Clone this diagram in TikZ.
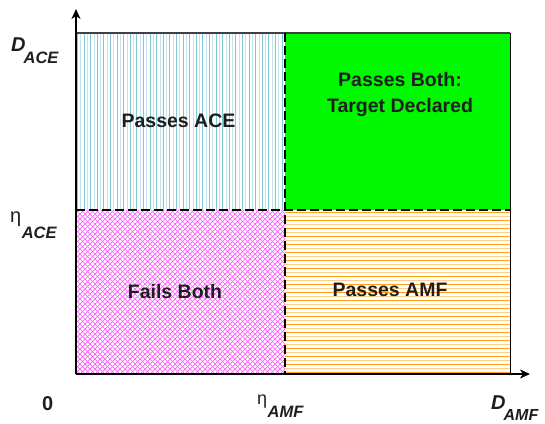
\documentclass[tikz,border=0pt]{standalone}
\usepackage{fontspec}
\setmainfont{Liberation Sans}
\usetikzlibrary{arrows.meta}
\definecolor{tealA}{RGB}{130,200,212}
\definecolor{tealB}{RGB}{195,230,236}
\definecolor{orgA}{RGB}{255,160,20}
\definecolor{orgB}{RGB}{255,205,140}
\definecolor{mag}{RGB}{255,90,255}
\definecolor{brightgreen}{RGB}{0,248,0}
\definecolor{txt}{RGB}{30,30,30}
\begin{document}
\begin{tikzpicture}[x=1pt,y=-1pt,
  region/.style={font=\fontsize{19.5}{26}\selectfont\bfseries, text=txt, anchor=base, inner sep=0pt, align=center},
  axlabel/.style={anchor=base west, inner sep=0pt, text=txt},
  divider/.style={line width=2pt, dash pattern=on 9pt off 4pt},
  axisline/.style={line width=2pt, -{Stealth[length=10pt,width=9pt,inset=3pt]}},
  ]
\useasboundingbox (0,0) rectangle (545,423);
\coordinate (O) at (76,374);
\coordinate (TL) at (76,33);
\coordinate (TR) at (510,33);
\coordinate (BR) at (510,374);
\coordinate (M) at (285,210);
\coordinate (Ytip) at (76,9);
\coordinate (Xtip) at (530,374);

% top-left: vertical teal lines
\fill[white] (TL) rectangle (M);
\begin{scope}
  \clip (TL) rectangle (M);
  \foreach \i in {0,...,64}{
    \ifodd\i
      \draw[tealB, line width=1pt] ({77.5+3.3*\i},33) -- ({77.5+3.3*\i},210);
    \else
      \draw[tealA, line width=1pt] ({77.5+3.3*\i},33) -- ({77.5+3.3*\i},210);
    \fi
  }
\end{scope}

% top-right: green
\fill[brightgreen] (M |- TL) rectangle (TR |- M);

% bottom-left: magenta crosshatch
\fill[white] (TL |- M) rectangle (M |- O);
\begin{scope}
  \clip (TL |- M) rectangle (M |- O);
  \foreach \k in {0,...,115}{
    \draw[mag, line width=0.7pt] ({-100+5*\k},374) -- ++(170,-170);
    \draw[mag, line width=0.7pt] ({-100+5*\k},374) -- ++(-170,-170);
  }
\end{scope}

% bottom-right: orange horizontal lines
\fill[white] (M) rectangle (BR);
\begin{scope}
  \clip (M) rectangle (BR);
  \foreach \i in {0,...,42}{
    \ifodd\i
      \draw[orgB, line width=1.3pt] (285,{212.5+4*\i}) -- (510,{212.5+4*\i});
    \else
      \draw[orgA, line width=1.3pt] (285,{212.5+4*\i}) -- (510,{212.5+4*\i});
    \fi
  }
\end{scope}

% outline
\draw[black!75, line width=1.5pt] (TL) -- (TR);
\draw[black, line width=1pt] (TR) -- (BR);

% dividers
\draw[divider] (M |- TL) -- (M |- O);
\draw[divider] (TL |- M) -- (TR |- M);

% axes
\draw[axisline] (O) -- (Ytip);
\draw[axisline] (O) -- (Xtip);

% region labels
\node[region] (passace) at (178.5,127) {Passes ACE};
\node[region] (passboth) at (400,112) {Passes Both:\\Target Declared};
\node[region] (fails) at (175,298) {Fails Both};
\node[region] (passamf) at (390,296) {Passes AMF};

% axis labels
\node[axlabel] (dace) at (11,51) {{\fontsize{20}{20}\selectfont\bfseries\itshape D}\kern-2pt\raisebox{-12pt}{\fontsize{16.5}{16}\selectfont\bfseries\itshape ACE}};
\node[axlabel] (eace) at (10,222) {{\fontsize{20}{20}\selectfont η}\kern0.5pt\raisebox{-16pt}{\fontsize{16.5}{16}\selectfont\bfseries\itshape ACE}};
\node[axlabel] (zero) at (42,410) {\fontsize{20}{20}\selectfont\bfseries 0};
\node[axlabel] (eamf) at (257,404) {{\fontsize{18}{18}\selectfont η}\kern0.5pt\raisebox{-13pt}{\fontsize{16.5}{16}\selectfont\bfseries\itshape AMF}};
\node[axlabel] (damf) at (491,409) {{\fontsize{20}{20}\selectfont\bfseries\itshape D}\kern-2pt\raisebox{-11pt}{\fontsize{16}{16}\selectfont\bfseries\itshape AMF}};
\end{tikzpicture}
\end{document}
